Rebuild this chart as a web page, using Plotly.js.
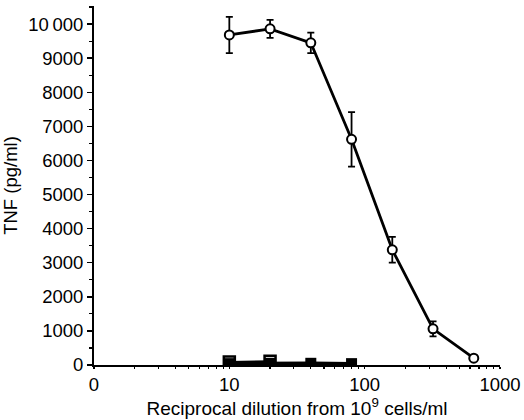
<!DOCTYPE html>
<html>
<head>
<meta charset="utf-8">
<script src="https://cdn.plot.ly/plotly-3.0.1.min.js"></script>
<style>html,body{margin:0;padding:0;background:#fff}#chart{width:524px;height:420px}</style>
</head>
<body>
<div id="chart"></div>
<script>
// Data
var dilution = [10, 20, 40, 80, 160, 320, 640];
var tnf = [9680, 9860, 9450, 6620, 3380, 1060, 200];
var tnfErr = [530, 265, 300, 800, 380, 220, 60];

var ctrlOpenX = [10, 20];
var ctrlOpenY = [90, 110];
var ctrlFilledX = [10, 20, 40, 80];
var ctrlFilledY = [40, 50, 50, 40];

var yTickVals = [0, 1000, 2000, 3000, 4000, 5000, 6000, 7000, 8000, 9000, 10000];
var yTickText = ['0', '1000', '2000', '3000', '4000', '5000', '6000', '7000', '8000', '9000', '10\u2009000'];
var xTickVals = [1, 10, 100, 1000];
var xTickText = ['0', '10', '100', '1000'];
var xMinorVals = [2,3,4,5,6,7,8,9,20,30,40,50,60,70,80,90,200,300,400,500,600,700,800,900];

var traces = [
  {
    x: ctrlFilledX, y: ctrlFilledY, type: 'scatter', mode: 'lines+markers',
    line: {color: '#000', width: 3.5},
    marker: {symbol: 'square', size: 11, color: '#000'},
    hoverinfo: 'skip'
  },
  {
    x: ctrlOpenX, y: ctrlOpenY, type: 'scatter', mode: 'lines+markers',
    line: {color: '#000', width: 2},
    marker: {symbol: 'square-open', size: 11, color: '#000', line: {width: 2.5}},
    hoverinfo: 'skip'
  },
  {
    x: dilution, y: tnf, type: 'scatter', mode: 'lines+markers',
    line: {color: '#000', width: 2.8},
    marker: {symbol: 'circle', size: 9, color: '#fff', line: {color: '#000', width: 2}},
    error_y: {type: 'data', array: tnfErr, visible: true, color: '#000', thickness: 1.8, width: 3.5},
    hoverinfo: 'skip'
  }
];

var fam = 'Liberation Sans, Arial, Helvetica, sans-serif';

var layout = {
  width: 524, height: 420,
  margin: {l: 94, r: 24, t: 6, b: 55},
  paper_bgcolor: '#fff', plot_bgcolor: '#fff',
  showlegend: false,
  font: {family: fam, size: 18, color: '#000'},
  xaxis: {
    type: 'log', range: [0, 3],
    tickvals: xTickVals, ticktext: xTickText,
    ticks: 'outside', ticklen: 2, tickwidth: 1.5, tickcolor: '#000',
    minor: {tickvals: xMinorVals, ticks: 'outside', ticklen: 2, tickwidth: 1.2, tickcolor: '#000'},
    showgrid: false, zeroline: false,
    showline: true, linecolor: '#000', linewidth: 2,
    tickfont: {family: fam, size: 18.5, color: '#000'},
    title: {text: 'Reciprocal dilution from 10<sup>9</sup> cells/ml', font: {family: fam, size: 19, color: '#000'}, standoff: 6}
  },
  yaxis: {
    range: [0, 10530],
    tickvals: yTickVals, ticktext: yTickText,
    ticks: 'outside', ticklen: 5, tickwidth: 1.5, tickcolor: '#000',
    minor: {dtick: 500, ticks: 'outside', ticklen: 3, tickwidth: 1.2, tickcolor: '#000'},
    showgrid: false, zeroline: false,
    showline: true, linecolor: '#000', linewidth: 2,
    tickfont: {family: fam, size: 18.5, color: '#000'},
    title: {text: 'TNF (pg/ml)', font: {family: fam, size: 18.5, color: '#000'}, standoff: 7}
  }
};

Plotly.newPlot('chart', traces, layout, {displayModeBar: false, staticPlot: true});
</script>
</body>
</html>
